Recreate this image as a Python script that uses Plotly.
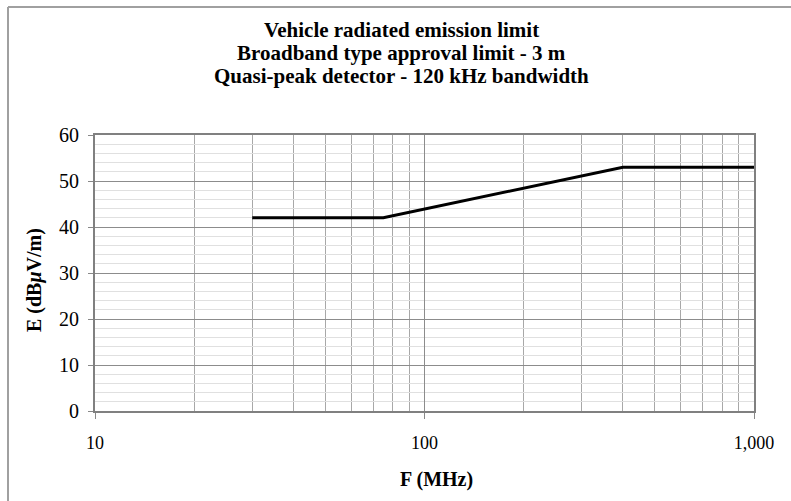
import plotly.graph_objects as go

freq_mhz = [30, 75, 400, 1000]
limit_dbuv = [42, 42, 53, 53]

x_tick_vals = [10, 100, 1000]
x_tick_text = ["10", "100", "1,000"]
x_minor_vals = [20, 30, 40, 50, 60, 70, 80, 90, 200, 300, 400, 500, 600, 700, 800, 900]

title_lines = ["Vehicle radiated emission limit",
               "Broadband type approval limit - 3 m",
               "Quasi-peak detector - 120 kHz bandwidth"]
x_title = "F (MHz)"
y_title = "E (dB<i>\u03bc</i>V/m)"

W, H = 791, 501
L, R, T, B = 95, 37, 135, 90
pw, ph = W - L - R, H - T - B

font_family = "Liberation Serif"


def px_x(px):
    return (px - L) / pw


def px_y(py):
    return (H - B - py) / ph


fig = go.Figure()
fig.add_trace(go.Scatter(x=freq_mhz, y=limit_dbuv, mode="lines",
                         line=dict(color="black", width=3), showlegend=False,
                         hoverinfo="x+y"))

fig.update_layout(
    width=W, height=H,
    margin=dict(l=L, r=R, t=T, b=B),
    paper_bgcolor="white", plot_bgcolor="white",
    font=dict(family=font_family, color="black", size=18),
    showlegend=False,
)

for i, line in enumerate(title_lines):
    fig.add_annotation(text="<b>" + line + "</b>", xref="paper", yref="paper",
                       x=px_x(401), y=px_y(30 + 23 * i), xanchor="center", yanchor="middle",
                       showarrow=False, font=dict(family=font_family, size=21, color="black"))

fig.add_annotation(text="<b>" + x_title + "</b>", xref="paper", yref="paper",
                   x=px_x(436), y=px_y(479), xanchor="center", yanchor="middle",
                   showarrow=False, font=dict(family=font_family, size=20, color="black"))
fig.add_annotation(text="<b>" + y_title + "</b>", xref="paper", yref="paper",
                   x=px_x(34), y=px_y(280), xanchor="center", yanchor="middle", textangle=-90,
                   showarrow=False, font=dict(family=font_family, size=20, color="black"))

fig.update_xaxes(
    type="log", range=[1, 3],
    tickvals=x_tick_vals, ticktext=x_tick_text,
    ticks="outside", ticklen=6, tickcolor="#888", tickwidth=1,
    ticklabelstandoff=8,
    showgrid=True, gridcolor="#8c8c8c", gridwidth=1,
    minor=dict(tickvals=x_minor_vals, showgrid=True, gridcolor="#a8a8a8", gridwidth=1, ticks=""),
    showline=True, linecolor="#808080", linewidth=2, mirror=True,
    zeroline=False,
    tickfont=dict(family=font_family, size=18),
)
fig.update_yaxes(
    range=[0, 60], dtick=10, tick0=0,
    ticks="outside", ticklen=5, tickcolor="#888", tickwidth=1,
    ticklabelstandoff=5,
    showgrid=True, gridcolor="#8c8c8c", gridwidth=1,
    minor=dict(dtick=2, showgrid=True, gridcolor="#e0e0e0", gridwidth=1, ticks=""),
    showline=True, linecolor="#808080", linewidth=2, mirror=True,
    zeroline=False,
    tickfont=dict(family=font_family, size=20),
)

# outer chart frame (partially visible in the reference)
left_px, top_px = 8, 7
fig.add_shape(type="line", xref="paper", yref="paper", x0=px_x(left_px), x1=px_x(W + 20),
              y0=px_y(top_px), y1=px_y(top_px), line=dict(color="#a0a0a0", width=2), layer="below")
fig.add_shape(type="line", xref="paper", yref="paper", x0=px_x(left_px), x1=px_x(left_px),
              y0=px_y(top_px), y1=px_y(H + 20), line=dict(color="#a0a0a0", width=2), layer="below")

fig.write_html("out.html")
